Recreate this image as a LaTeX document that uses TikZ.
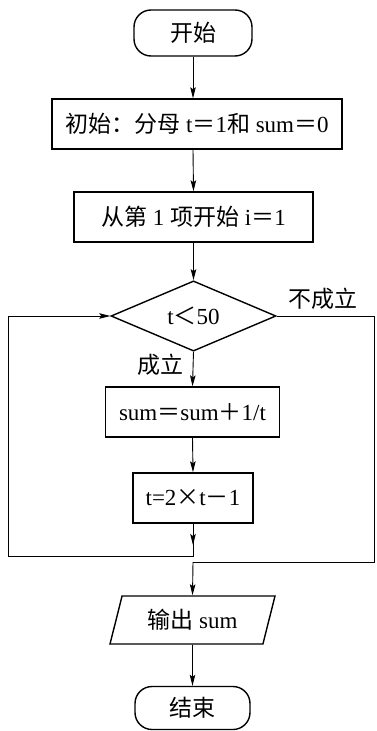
\documentclass[tikz,border=0pt]{standalone}
\usepackage{fontspec}
\setmainfont{Liberation Serif}
\newfontfamily\cjk{Noto Sans CJK SC}
\newcommand{\zh}[1]{{\cjk #1}}
\usetikzlibrary{shapes.geometric,arrows.meta}
\begin{document}
\begin{tikzpicture}[x=1pt,y=-1pt,
  box/.style={draw,line width=1.4pt,inner sep=0pt,font=\fontsize{23}{27}\selectfont},
  term/.style={box,rounded corners=17pt},
  ln/.style={line width=0.9pt},
  arr/.style={ln,-{Stealth[length=11pt,width=5.5pt,inset=2pt]}},
  lab/.style={inner sep=0pt,font=\fontsize{23}{27}\selectfont}]
\useasboundingbox (0,0) rectangle (376,731);
\node[term,minimum width=118pt,minimum height=46pt] (start) at (193,33) {\zh{开始}};
\node[box,minimum width=290pt,minimum height=50pt] (b1) at (197,124) {\zh{初始：分母} t\zh{＝}1\zh{和} sum\zh{＝}0};
\node[box,minimum width=239pt,minimum height=50pt] (b2) at (193.5,217) {\zh{从第} 1 \zh{项开始} i\zh{＝}1};
\node[box,diamond,minimum width=165pt,minimum height=67pt] (d) at (193.5,316) {t\zh{＜}50};
\node[box,minimum width=174pt,minimum height=50pt] (b3) at (192.5,412) {sum\zh{＝}sum\zh{＋}1/t};
\node[box,minimum width=120pt,minimum height=50pt] (b4) at (193,498) {t=2\zh{×}t\zh{－}1};
\node[box,trapezium,trapezium left angle=70,trapezium right angle=110,trapezium stretches,minimum width=165pt,minimum height=48pt] (out) at (192.5,620) {\zh{输出} sum};
\node[term,minimum width=115pt,minimum height=43pt] (end) at (192.5,708) {\zh{结束}};
\node[lab] (no) at (323,299) {\zh{不成立}};
\node[lab] (yes) at (160,365) {\zh{成立}};
\coordinate (lb) at (193,556);
\coordinate (lm) at (193,545);
\coordinate (ll) at (8,556);
\coordinate (lt) at (8,316);
\coordinate (rt) at (374.5,316);
\coordinate (rb) at (374.5,562);
\coordinate (cb) at (193,562);
\draw[arr] (start.south) -- (start.south |- b1.north);
\draw[arr] (start.south |- b1.south) -- (b2.north);
\draw[arr] (b2.south) -- (d.north);
\draw[arr] (d.south) -- (b3.north);
\draw[arr] (b3.south) -- (b4.north);
\draw[ln] (b4.south) -- (lb) -- (ll) -- (lt);
\draw[arr] (b4.south) -- (lm);
\draw[arr] (lt) -- (d.west);
\draw[ln] (d.east) -- (rt) -- (rb) -- (cb);
\draw[arr] (cb) -- (out.north);
\draw[arr] (out.south) -- (end.north);
\end{tikzpicture}
\end{document}
